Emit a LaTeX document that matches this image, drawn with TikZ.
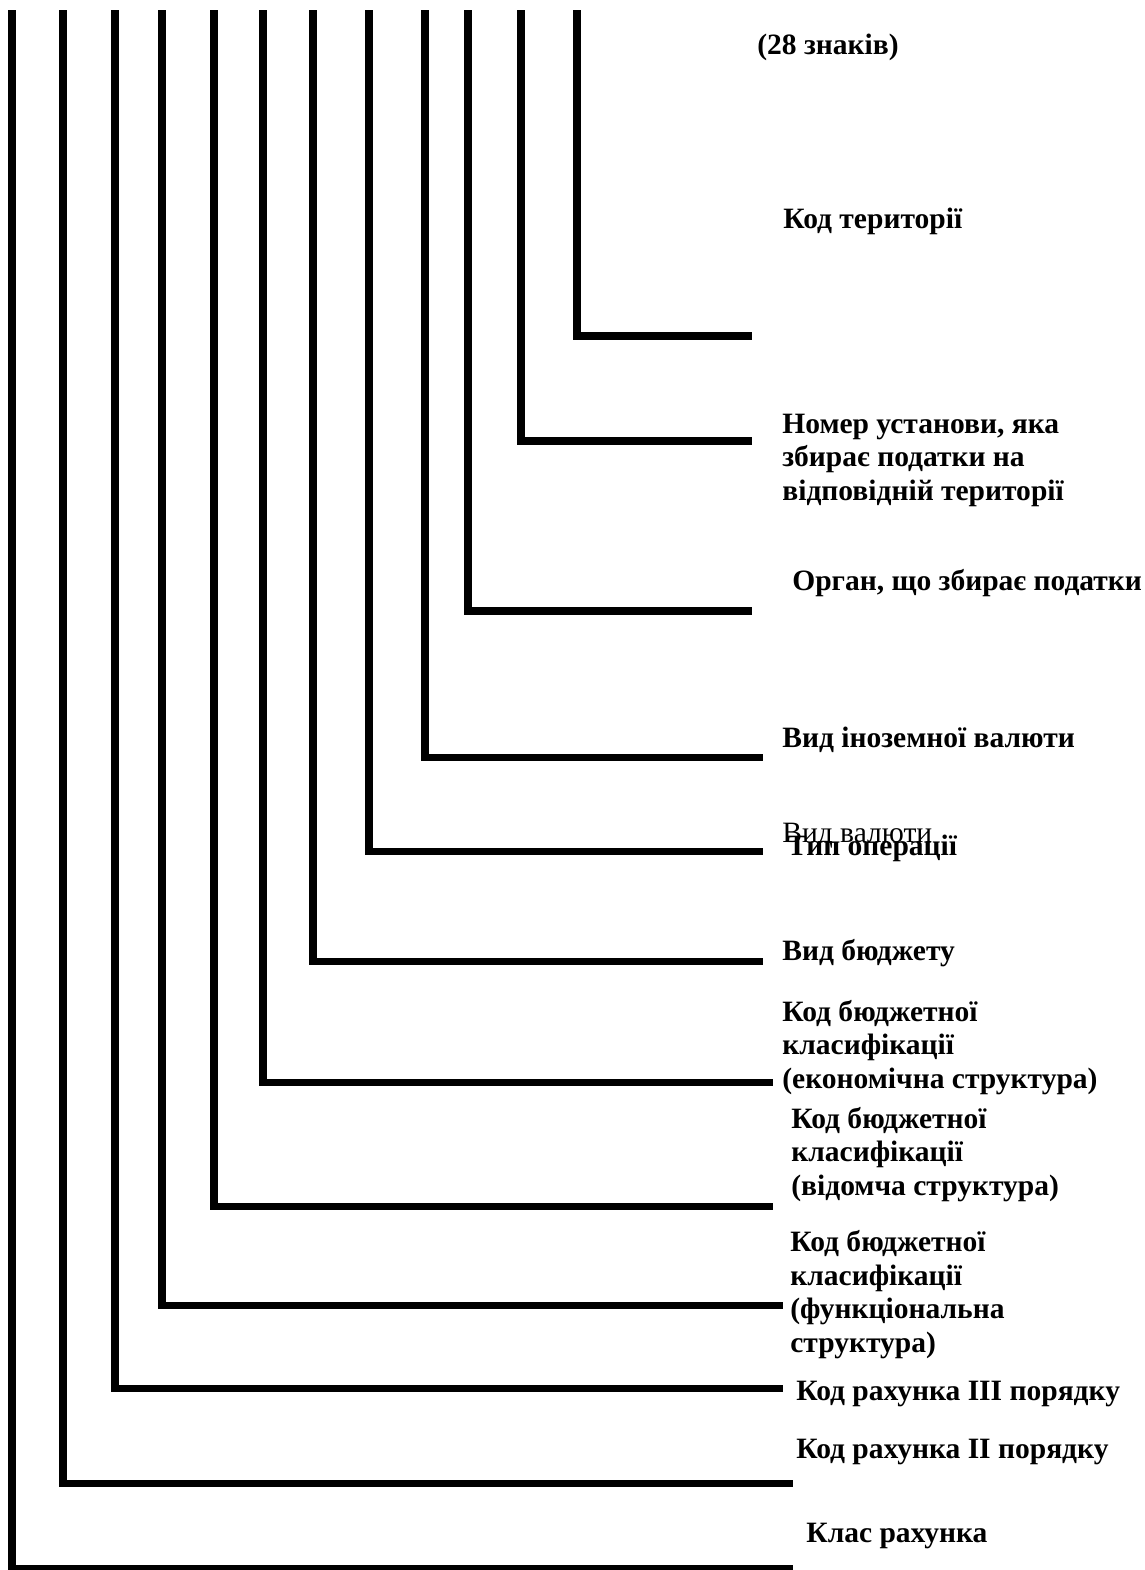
\documentclass[tikz,border=0pt]{standalone}
\usepackage{fontspec}
\setmainfont{Liberation Serif}
\tikzset{%
  % Specifications for style of lines and labels:
        branch/.style = {line width=4pt},
           lbl/.style = {anchor=base west, inner sep=0pt, align=left,
                         font=\fontsize{16.8}{19}\selectfont\bfseries},
      plainlbl/.style = {lbl, font=\fontsize{16.8}{19}\selectfont},
}

\begin{document}
\begin{tikzpicture}[x=0.02cm, y=-0.02cm]
  \useasboundingbox (0,0) rectangle (1144,1570);
  % Tops of the vertical lines
  \coordinate (t1)  at (12,10);
  \coordinate (t2)  at (63,10);
  \coordinate (t3)  at (115,10);
  \coordinate (t4)  at (162,10);
  \coordinate (t5)  at (214,10);
  \coordinate (t6)  at (263,10);
  \coordinate (t7)  at (313,10);
  \coordinate (t8)  at (369,10);
  \coordinate (t9)  at (425,10);
  \coordinate (t10) at (468,10);
  \coordinate (t11) at (521,10);
  \coordinate (t12) at (577,10);
  % Free ends of the horizontal lines
  \coordinate (e1)  at (793,1568);
  \coordinate (e2)  at (793,1483);
  \coordinate (e3)  at (783,1388);
  \coordinate (e4)  at (783,1305);
  \coordinate (e5)  at (773,1206);
  \coordinate (e6)  at (773,1082);
  \coordinate (e7)  at (763,961);
  \coordinate (e8)  at (763,851);
  \coordinate (e9)  at (763,757);
  \coordinate (e10) at (752,611);
  \coordinate (e11) at (752,441);
  \coordinate (e12) at (752,336);

  % Specification of labels (position, etc.)
  % multi-line labels sit on the baseline of their last line
  \node (total)    [lbl] at (757,54)  {(28 знаків)};
  \node (terr)     [lbl] at (783,228) {Код території};
  \node (inst)     [lbl] at (782,500) {Номер установи, яка\\збирає податки на\\відповідній території};
  \node (organ)    [lbl] at (792,590) {Орган, що збирає податки};
  \node (forcur)   [lbl] at (782,747) {Вид іноземної валюти};
  \node (currency) [plainlbl] at (782,842) {Вид валюти};
  \node (optype)   [lbl] at (787,855) {Тип операції};
  \node (budget)   [lbl] at (782,960) {Вид бюджету};
  \node (econ)     [lbl] at (782,1088) {Код бюджетної\\класифікації\\(економічна структура)};
  \node (dept)     [lbl] at (791,1195) {Код бюджетної\\класифікації\\(відомча структура)};
  \node (func)     [lbl] at (790,1352) {Код бюджетної\\класифікації\\(функціональна\\структура)};
  \node (acc3)     [lbl] at (796,1400) {Код рахунка ІІІ порядку};
  \node (acc2)     [lbl] at (796,1458) {Код рахунка ІІ порядку};
  \node (class)    [lbl] at (806,1542) {Клас рахунка};

  % Specification of lines, from the top down and to the right
  \draw[branch] (t1)  |- (e1);
  \draw[branch] (t2)  |- (e2);
  \draw[branch] (t3)  |- (e3);
  \draw[branch] (t4)  |- (e4);
  \draw[branch] (t5)  |- (e5);
  \draw[branch] (t6)  |- (e6);
  \draw[branch] (t7)  |- (e7);
  \draw[branch] (t8)  |- (e8);
  \draw[branch] (t9)  |- (e9);
  \draw[branch] (t10) |- (e10);
  \draw[branch] (t11) |- (e11);
  \draw[branch] (t12) |- (e12);
\end{tikzpicture}
\end{document}
